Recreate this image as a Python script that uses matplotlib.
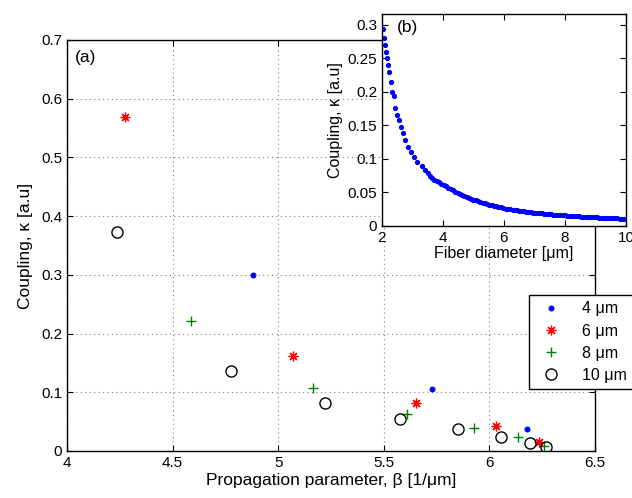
import matplotlib
matplotlib.use("Agg")
import matplotlib.pyplot as plt

plt.rcParams['font.family'] = ['Liberation Sans', 'DejaVu Sans']

# (a) coupling vs propagation parameter, one series per fiber diameter
beta_4 = [4.88, 5.73, 6.18]
kappa_4 = [0.300, 0.106, 0.038]
beta_6 = [4.275, 5.068, 5.651, 6.032, 6.237]
kappa_6 = [0.569, 0.161, 0.081, 0.043, 0.016]
beta_8 = [4.588, 5.164, 5.61, 5.927, 6.137, 6.259]
kappa_8 = [0.222, 0.107, 0.063, 0.039, 0.023, 0.009]
beta_10 = [4.238, 4.776, 5.223, 5.577, 5.85, 6.055, 6.191, 6.267]
kappa_10 = [0.373, 0.137, 0.081, 0.054, 0.037, 0.024, 0.014, 0.006]
labels = ['4 \u03bcm', '6 \u03bcm', '8 \u03bcm', '10 \u03bcm']

# (b) coupling vs fiber diameter
diam = [2.02, 2.06, 2.09, 2.12, 2.16, 2.20, 2.23, 2.28, 2.33, 2.38, 2.44, 2.49,
        2.55, 2.61, 2.69, 2.76, 2.85, 2.94, 3.05, 3.16, 3.31, 3.40, 3.5, 3.58,
        3.65, 3.72, 3.8, 3.88, 3.95, 4.02, 4.1, 4.18, 4.25, 4.32, 4.4, 4.48,
        4.55, 4.62, 4.7, 4.78, 4.85, 4.92, 5.0, 5.08, 5.15, 5.22, 5.3, 5.38,
        5.45, 5.52, 5.6, 5.68, 5.75, 5.82, 5.9, 5.98, 6.05, 6.12, 6.2, 6.28,
        6.35, 6.42, 6.5, 6.58, 6.65, 6.72, 6.8, 6.88, 6.95, 7.02, 7.1, 7.18,
        7.25, 7.32, 7.4, 7.48, 7.55, 7.62, 7.7, 7.78, 7.85, 7.92, 8.0, 8.08,
        8.15, 8.22, 8.3, 8.38, 8.45, 8.52, 8.6, 8.68, 8.75, 8.82, 8.9, 8.98,
        9.05, 9.12, 9.2, 9.28, 9.35, 9.42, 9.5, 9.58, 9.65, 9.72, 9.8, 9.88,
        9.95]
coup = [0.294, 0.280, 0.270, 0.260, 0.250, 0.240, 0.230, 0.215, 0.200, 0.194,
        0.176, 0.166, 0.158, 0.148, 0.138, 0.128, 0.118, 0.111, 0.103, 0.096,
        0.089, 0.084, 0.079, 0.075, 0.072, 0.069, 0.067, 0.065, 0.063, 0.061,
        0.059, 0.057, 0.055, 0.053, 0.051, 0.0495, 0.048, 0.0465, 0.045,
        0.0435, 0.042, 0.0405, 0.039, 0.038, 0.037, 0.036, 0.035, 0.034,
        0.033, 0.032, 0.031, 0.0305, 0.030, 0.029, 0.028, 0.027, 0.026,
        0.0255, 0.025, 0.0245, 0.024, 0.0235, 0.023, 0.0225, 0.022, 0.0215,
        0.021, 0.0205, 0.020, 0.0198, 0.0195, 0.0191, 0.0188, 0.0184, 0.018,
        0.0177, 0.0174, 0.0171, 0.0168, 0.0165, 0.0162, 0.0159, 0.0157,
        0.0154, 0.0152, 0.015, 0.0148, 0.0145, 0.0143, 0.0141, 0.0139, 0.0137,
        0.0135, 0.0133, 0.0131, 0.0129, 0.0127, 0.0125, 0.0124, 0.0122, 0.012,
        0.0118, 0.0117, 0.0115, 0.0114, 0.0112, 0.0111, 0.0109, 0.0108]

fig = plt.figure(figsize=(6.32, 4.98), dpi=100)
ax = fig.add_axes([0.106, 0.0944, 0.8354, 0.8253])

ax.plot(beta_4, kappa_4, '.', color='b', markersize=6.5, label=labels[0])
ax.plot(beta_6, kappa_6, linestyle='none', marker=(8, 2, 0), color='r',
        markersize=7, markeredgewidth=0.9, label=labels[1])
ax.plot(beta_8, kappa_8, '+', color=(0, 0.5, 0), markersize=7.5,
        markeredgewidth=1.0, label=labels[2])
ax.plot(beta_10, kappa_10, 'o', markerfacecolor='none', markeredgecolor='k',
        markersize=8, markeredgewidth=1.0, label=labels[3])

ax.set_xlim(4, 6.5)
ax.set_ylim(0, 0.7)
ax.set_xticks([4, 4.5, 5, 5.5, 6, 6.5])
ax.set_xticklabels(['4', '4.5', '5', '5.5', '6', '6.5'])
ax.set_yticks([0, 0.1, 0.2, 0.3, 0.4, 0.5, 0.6, 0.7])
ax.set_yticklabels(['0', '0.1', '0.2', '0.3', '0.4', '0.5', '0.6', '0.7'])
ax.grid(True, linestyle=(0, (1, 3)), color='0.5', linewidth=0.8)
ax.tick_params(direction='in', top=True, right=True, labelsize=11, length=4)
ax.set_xlabel('Propagation parameter, \u03b2 [1/\u03bcm]', fontsize=12.5, labelpad=2)
ax.set_ylabel('Coupling, \u03ba [a.u]', fontsize=12.5, labelpad=6)
for s in ax.spines.values():
    s.set_linewidth(1.0)
ax.text(0.015, 0.975, '(a)', transform=ax.transAxes, fontsize=12.5, va='top')

leg = ax.legend(loc='upper left', bbox_to_anchor=(529 / 632, 1 - 295 / 498),
                bbox_transform=fig.transFigure, numpoints=1, fontsize=11.5,
                fancybox=False, edgecolor='k', framealpha=1, borderpad=0.4,
                handletextpad=0.9, labelspacing=0.45, borderaxespad=0)
leg.get_frame().set_linewidth(1.0)

# inset (b)
ax2 = fig.add_axes([0.6044, 0.5462, 0.3861, 0.4257])
ax2.plot(diam, coup, '.', color='b', markersize=5.5)
ax2.set_xlim(2, 10)
ax2.set_ylim(0, 0.316)
ax2.set_xticks([2, 4, 6, 8, 10])
ax2.set_yticks([0, 0.05, 0.1, 0.15, 0.2, 0.25, 0.3])
ax2.set_yticklabels(['0', '0.05', '0.1', '0.15', '0.2', '0.25', '0.3'])
ax2.tick_params(direction='in', top=True, right=True, labelsize=11, length=4)
ax2.set_xlabel('Fiber diameter [\u03bcm]', fontsize=11.5, labelpad=1)
ax2.set_ylabel('Coupling, \u03ba [a.u]', fontsize=11.5, labelpad=3)
for s in ax2.spines.values():
    s.set_linewidth(1.0)
ax2.text(0.06, 0.97, '(b)', transform=ax2.transAxes, fontsize=12.5, va='top')

fig.savefig('out.png', dpi=100)
